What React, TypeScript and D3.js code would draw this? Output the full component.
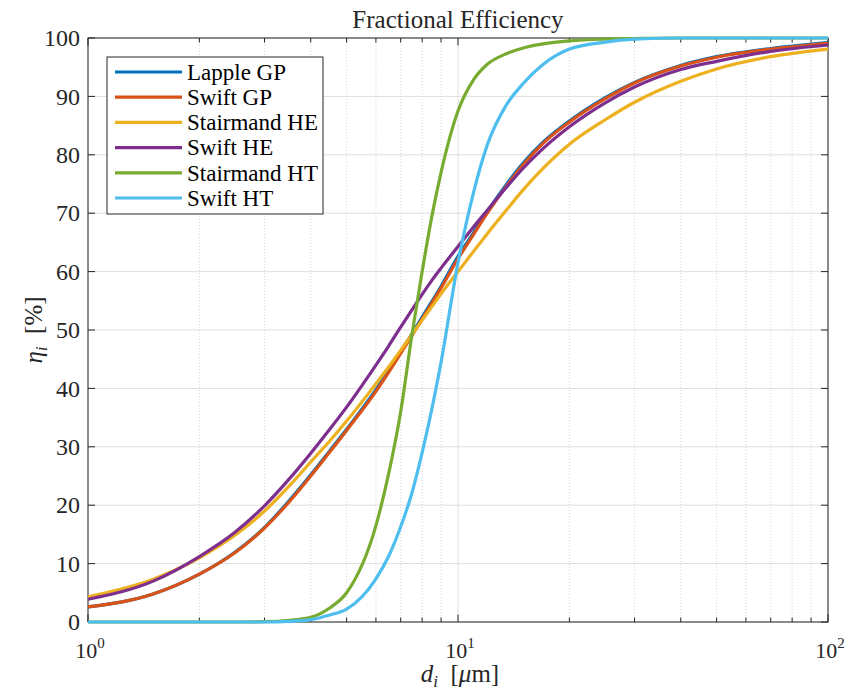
import * as React from "react";
import * as d3 from "d3";

// particle diameter [um] (shared sample points)
const diameters = [1, 1.5, 2, 2.5, 3, 3.5, 4, 4.5, 5, 6, 6.5, 7, 7.5, 8, 8.5, 9, 10, 11, 12, 13.5, 15, 17, 20, 25, 30, 40, 50, 70, 100];

// fractional efficiency [%]
const lappleGP = [2.6, 4.8, 8.2, 12.0, 16.2, 20.8, 25.2, 29.3, 33.0, 39.8, 43.1, 46.3, 49.3, 52.2, 54.9, 57.5, 62.6, 66.6, 70.3, 74.9, 78.6, 82.2, 85.8, 89.8, 92.4, 95.3, 96.8, 98.2, 99.2];
const swiftGP = [2.6, 4.8, 8.2, 11.9, 16.1, 20.6, 25.0, 29.1, 32.8, 39.5, 42.8, 46.0, 49.0, 51.9, 54.6, 57.2, 62.2, 66.3, 70.0, 74.6, 78.3, 82.0, 85.6, 89.6, 92.3, 95.2, 96.7, 98.1, 99.1];
const stairmandHE = [4.3, 7.3, 11.0, 14.9, 19.0, 23.3, 27.4, 31.0, 34.4, 40.8, 43.7, 46.5, 49.2, 51.7, 54.0, 56.2, 60.0, 63.4, 66.5, 70.5, 74.0, 77.7, 81.8, 86.0, 89.0, 92.6, 94.7, 96.8, 98.1];
const swiftHE = [3.9, 7.0, 11.2, 15.4, 19.9, 24.5, 28.9, 33.0, 36.8, 44.0, 47.3, 50.5, 53.4, 56.1, 58.5, 60.6, 64.3, 67.6, 70.5, 74.4, 77.7, 81.1, 84.8, 88.9, 91.6, 94.6, 96.0, 97.7, 98.8];
const stairmandHT = [0, 0, 0, 0, 0.05, 0.3, 0.8, 2.4, 5.0, 16.5, 25.5, 36.0, 49.0, 60.0, 69.5, 77.0, 87.5, 92.8, 95.5, 97.3, 98.3, 99.0, 99.5, 99.8, 99.9, 100, 100, 100, 100];
const swiftHT = [0, 0, 0, 0, 0, 0.1, 0.4, 1.2, 2.2, 7.4, 11.3, 16.3, 22.0, 29.0, 36.5, 44.5, 61.5, 73.4, 81.7, 88.5, 92.2, 95.5, 98.1, 99.3, 99.8, 100, 100, 100, 100];

const seriesNames = ["Lapple GP", "Swift GP", "Stairmand HE", "Swift HE", "Stairmand HT", "Swift HT"];
const seriesValues = [lappleGP, swiftGP, stairmandHE, swiftHE, stairmandHT, swiftHT];
const seriesColors = ["#0072BD", "#D95319", "#EDB120", "#7E2F8E", "#77AC30", "#4DBEEE"];

const yTicks = [0, 10, 20, 30, 40, 50, 60, 70, 80, 90, 100];
const xMajorTicks = [1, 10, 100];
const xMinorTicks = [2, 3, 4, 5, 6, 7, 8, 9, 20, 30, 40, 50, 60, 70, 80, 90];
const xTickExponents = ["0", "1", "2"];

const width = 845;
const height = 690;
const margin = { top: 38, right: 17, bottom: 68, left: 88 };
const axisColor = "#262626";
const font = "'Liberation Serif', 'DejaVu Serif', serif";

export default function App() {
  const ref = React.useRef<SVGSVGElement>(null);

  React.useEffect(() => {
    const svg = d3.select(ref.current);
    svg.selectAll("*").remove();

    const x = d3.scaleLog().domain([1, 100]).range([margin.left, width - margin.right]);
    const y = d3.scaleLinear().domain([0, 100]).range([height - margin.bottom, margin.top]);
    const [x0, x1] = x.range();
    const [y0, y1] = y.range();

    svg.append("rect").attr("width", width).attr("height", height).attr("fill", "white");

    // grid
    const grid = svg.append("g");
    grid.selectAll(".minor").data(xMinorTicks).enter().append("line")
      .attr("x1", (d) => x(d)).attr("x2", (d) => x(d))
      .attr("y1", y0).attr("y2", y1)
      .attr("stroke", "#c8c8c8").attr("stroke-width", 0.8).attr("stroke-dasharray", "1,2");
    grid.selectAll(".xmajor").data(xMajorTicks).enter().append("line")
      .attr("x1", (d) => x(d)).attr("x2", (d) => x(d))
      .attr("y1", y0).attr("y2", y1)
      .attr("stroke", "#dfdfdf").attr("stroke-width", 1);
    grid.selectAll(".ymajor").data(yTicks).enter().append("line")
      .attr("x1", x0).attr("x2", x1)
      .attr("y1", (d) => y(d)).attr("y2", (d) => y(d))
      .attr("stroke", "#dfdfdf").attr("stroke-width", 1);

    // box + ticks
    const axes = svg.append("g").attr("stroke", axisColor).attr("stroke-width", 1);
    axes.append("rect")
      .attr("x", x0).attr("y", y1).attr("width", x1 - x0).attr("height", y0 - y1)
      .attr("fill", "none");
    yTicks.forEach((t) => {
      axes.append("line").attr("x1", x0).attr("x2", x0 + 7).attr("y1", y(t)).attr("y2", y(t));
      axes.append("line").attr("x1", x1).attr("x2", x1 - 7).attr("y1", y(t)).attr("y2", y(t));
    });
    xMajorTicks.forEach((t) => {
      axes.append("line").attr("x1", x(t)).attr("x2", x(t)).attr("y1", y0).attr("y2", y0 - 7.5);
      axes.append("line").attr("x1", x(t)).attr("x2", x(t)).attr("y1", y1).attr("y2", y1 + 7.5);
    });
    xMinorTicks.forEach((t) => {
      axes.append("line").attr("x1", x(t)).attr("x2", x(t)).attr("y1", y0).attr("y2", y0 - 4.5);
      axes.append("line").attr("x1", x(t)).attr("x2", x(t)).attr("y1", y1).attr("y2", y1 + 4.5);
    });

    // tick labels
    const labels = svg.append("g").attr("font-family", font).attr("fill", axisColor);
    labels.selectAll(".ylab").data(yTicks).enter().append("text")
      .attr("x", x0 - 8).attr("y", (d) => y(d)).attr("dy", "0.34em")
      .attr("text-anchor", "end").attr("font-size", 24)
      .text((d) => d);
    xMajorTicks.forEach((t, i) => {
      const txt = labels.append("text")
        .attr("x", x(t) + 2).attr("y", y0 + 36).attr("text-anchor", "middle").attr("font-size", 22);
      txt.append("tspan").text("10");
      txt.append("tspan").attr("dy", -10).attr("font-size", 15).text(xTickExponents[i]);
    });

    // title and axis labels
    labels.append("text")
      .attr("x", (x0 + x1) / 2).attr("y", 28).attr("text-anchor", "middle")
      .attr("font-size", 25).text("Fractional Efficiency");

    const xl = labels.append("text")
      .attr("x", (x0 + x1) / 2 + 2).attr("y", 682).attr("text-anchor", "middle").attr("font-size", 25);
    xl.append("tspan").attr("font-style", "italic").text("d");
    xl.append("tspan").attr("font-style", "italic").attr("font-size", 17).attr("dy", 5).text("i");
    xl.append("tspan").attr("dy", -5).text("\u2002[");
    xl.append("tspan").attr("font-style", "italic").text("\u03bc");
    xl.append("tspan").text("m]");

    const yl = labels.append("text")
      .attr("transform", `translate(42, ${(y0 + y1) / 2}) rotate(-90)`)
      .attr("text-anchor", "middle").attr("font-size", 25);
    yl.append("tspan").attr("font-style", "italic").text("\u03b7");
    yl.append("tspan").attr("font-style", "italic").attr("font-size", 17).attr("dy", 5).text("i");
    yl.append("tspan").attr("dy", -5).text("\u2002[%]");

    // curves
    const line = d3.line<number>()
      .x((_, i) => x(diameters[i]))
      .y((d) => y(d))
      .curve(d3.curveMonotoneX);
    svg.append("g").selectAll("path").data(seriesValues).enter().append("path")
      .attr("d", (d) => line(d))
      .attr("fill", "none")
      .attr("stroke", (_, i) => seriesColors[i])
      .attr("stroke-width", 3.2)
      .attr("stroke-linejoin", "round");

    // legend
    const lg = svg.append("g").attr("transform", "translate(107, 57)");
    lg.append("rect").attr("width", 216).attr("height", 157)
      .attr("fill", "white").attr("stroke", axisColor).attr("stroke-width", 1);
    const rows = lg.selectAll(".row").data(seriesNames).enter().append("g")
      .attr("transform", (_, i) => `translate(0, ${15 + i * 25.2})`);
    rows.append("line").attr("x1", 8).attr("x2", 75)
      .attr("stroke", (_, i) => seriesColors[i]).attr("stroke-width", 3.2);
    rows.append("text").attr("x", 80).attr("dy", "0.34em")
      .attr("font-family", font).attr("font-size", 23).attr("fill", "#000")
      .text((d) => d);
  }, []);

  return (
    <svg
      ref={ref}
      width={width}
      height={height}
      style={{ position: "absolute", left: 0, top: 0, display: "block" }}
    />
  );
}
